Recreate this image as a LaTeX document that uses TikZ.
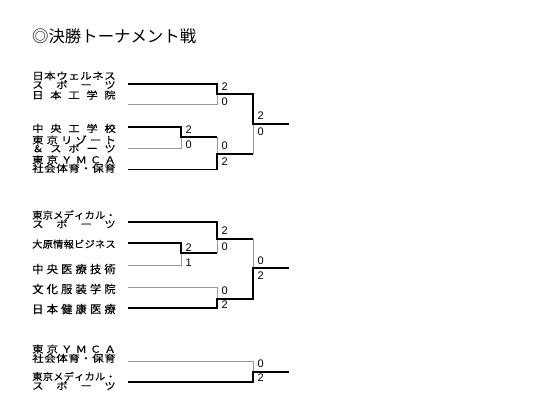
\documentclass[tikz,border=0pt]{standalone}
\usepackage{fontspec}
\usepackage{graphicx}
\setmainfont{Liberation Sans}
\newfontfamily\jp[FakeBold=0.25]{Noto Sans CJK JP}
\newfontfamily\jptitle{Noto Sans CJK JP}
\makeatletter
\def\spr@#1{\ifx#1\relax\else#1\hfill\expandafter\spr@\fi}
\newcommand\lbl[2][1.15]{\pgfmathsetlengthmacro\lblw{83.5pt/#1}\scalebox{#1}[1]{\makebox[\lblw]{\spr@#2\relax\unskip}}}
\makeatother
\tikzset{
  win/.style={line width=1.9pt, black},
  lose/.style={line width=0.8pt, black!40},
  lab/.style={inner sep=0pt, anchor=base, font=\jp\fontsize{9.8}{9.8}\selectfont},
  labbig/.style={lab, font=\jp\fontsize{11.3}{11.3}\selectfont},
  score/.style={inner sep=0pt, anchor=west, font=\fontsize{11}{11}\selectfont},
}
\begin{document}
\begin{tikzpicture}[x=1pt,y=1pt]
\useasboundingbox (0,0) rectangle (550,-411);
% title
\node[inner sep=0pt, anchor=base west, font=\jptitle\fontsize{16.4}{16.4}\selectfont] (title) at (32,-43) {◎決勝トーナメント戦};

% ---------- bracket 1 ----------
\node[lab] (l1a) at (74,-79.5) {\lbl[1.18]{日本ウェルネス}};
\node[lab] (l1b) at (74,-88.5) {\lbl{スポーツ}};
\node[lab] (l2)  at (74,-98.8) {\lbl{日本工学院}};
\node[lab] (l3)  at (74,-132.2) {\lbl{中央工学校}};
\node[lab] (l4a) at (74,-143.8) {\lbl{東京リゾート}};
\node[lab] (l4b) at (74,-152.2) {\lbl{＆スポーツ}};
\node[lab] (l5a) at (74,-163.5) {\lbl{東京ＹＭＣＡ}};
\node[lab] (l5b) at (74,-172) {\lbl[1.18]{社会体育・保育}};

\coordinate (a1) at (128,-84);
\coordinate (a2) at (128,-104);
\coordinate (a3) at (128,-127);
\coordinate (a4) at (128,-148);
\coordinate (a5) at (128,-169.5);
\coordinate (jA) at (217,-94);
\coordinate (jB) at (181,-137);
\coordinate (jC) at (217,-154);
\coordinate (jF) at (253,-124.3);
\coordinate (e1) at (289,-124.3);

\draw[lose] (a2) -| (jA);
\draw[lose] (a4) -| (jB);
\draw[lose] (jB -| jC) -- (jC);
\draw[lose] (jC -| jF) -- (jF);
\draw[win] (a1) -| (jA) -| (jF) -- (e1);
\draw[win] (a3) -| (jB) -- (jB -| jC);
\draw[win] (a5) -| (jC) -- (jC -| jF);

\node[score] (sA1) at ([shift={(4.4,7.5)}]jA) {2};
\node[score] (sA2) at ([shift={(4.4,-7.3)}]jA) {0};
\node[score] (sB1) at ([shift={(4.4,7.7)}]jB) {2};
\node[score] (sB2) at ([shift={(4.4,-7.3)}]jB) {0};
\node[score] (sC1) at ([shift={(4.4,8)}]jC) {0};
\node[score] (sC2) at ([shift={(4.4,-8)}]jC) {2};
\node[score] (sF1) at ([shift={(4.4,8.3)}]jF) {2};
\node[score] (sF2) at ([shift={(4.4,-7.5)}]jF) {0};

% ---------- bracket 2 ----------
\node[lab] (m1a) at (74,-218.8) {\lbl[1.04]{東京メディカル・}};
\node[lab] (m1b) at (74,-227.8) {\lbl{スポーツ}};
\node[lab] (m2)  at (74,-247.8) {\lbl[1.04]{大原情報ビジネス}};
\node[labbig] (m3) at (74,-273.3) {\lbl[1.0]{中央医療技術}};
\node[labbig] (m4) at (74,-293.3) {\lbl[1.0]{文化服装学院}};
\node[labbig] (m5) at (74,-313.3) {\lbl[1.0]{日本健康医療}};

\coordinate (b1) at (128,-222);
\coordinate (b2) at (128,-243.3);
\coordinate (b3) at (128,-265.5);
\coordinate (b4) at (128,-287.3);
\coordinate (b5) at (128,-308.3);
\coordinate (jD) at (217,-239);
\coordinate (jE) at (181,-253.3);
\coordinate (jH) at (217,-299);
\coordinate (jG) at (253,-268.3);
\coordinate (e2) at (289,-268.3);

\draw[lose] (b3) -| (jE);
\draw[lose] (jE -| jD) -- (jD);
\draw[lose] (b4) -| (jH);
\draw[lose] (jD -| jG) -- (jG);
\draw[win] (b1) -| (jD) -- (jD -| jG);
\draw[win] (b2) -| (jE) -- (jE -| jD);
\draw[win] (b5) -| (jH) -| (jG) -- (e2);

\node[score] (sD1) at ([shift={(4.4,8)}]jD) {2};
\node[score] (sD2) at ([shift={(4.4,-7.3)}]jD) {0};
\node[score] (sE1) at ([shift={(4.4,5.5)}]jE) {2};
\node[score] (sE2) at ([shift={(4.4,-9.5)}]jE) {1};
\node[score] (sH1) at ([shift={(4.4,8)}]jH) {0};
\node[score] (sH2) at ([shift={(4.4,-6)}]jH) {2};
\node[score] (sG1) at ([shift={(4.4,7.5)}]jG) {0};
\node[score] (sG2) at ([shift={(4.4,-7.5)}]jG) {2};

% ---------- bracket 3 ----------
\node[lab] (n1a) at (74,-352.8) {\lbl{東京ＹＭＣＡ}};
\node[lab] (n1b) at (74,-362) {\lbl[1.18]{社会体育・保育}};
\node[lab] (n2a) at (74,-380.2) {\lbl[1.04]{東京メディカル・}};
\node[lab] (n2b) at (74,-389.5) {\lbl{スポーツ}};

\coordinate (c1) at (128,-361);
\coordinate (c2) at (128,-382.3);
\coordinate (jI) at (253,-371.7);
\coordinate (e3) at (289,-371.7);

\draw[lose] (c1) -| (jI);
\draw[win] (c2) -| (jI) -- (e3);

\node[score] (sI1) at ([shift={(4.4,7.7)}]jI) {0};
\node[score] (sI2) at ([shift={(4.4,-6.3)}]jI) {2};
\end{tikzpicture}
\end{document}
